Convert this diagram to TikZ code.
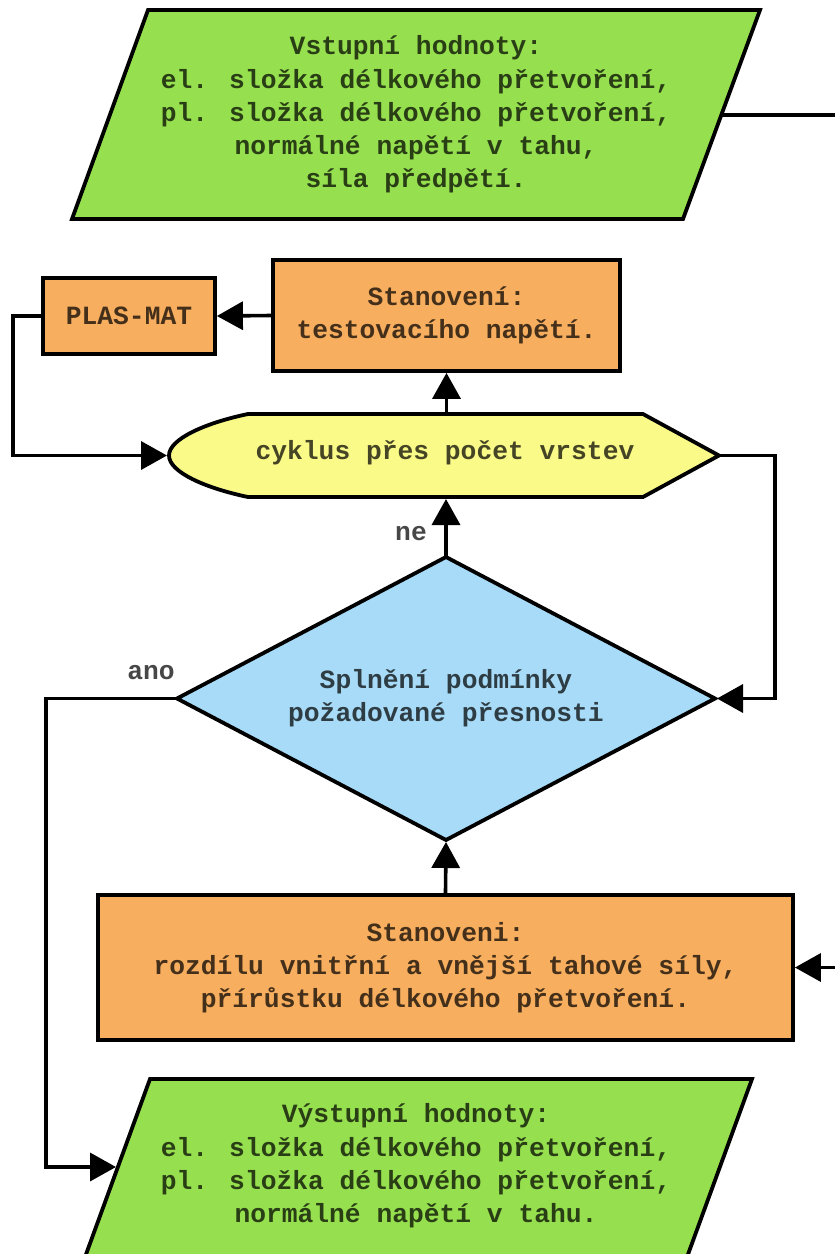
\documentclass[tikz,border=0pt]{standalone}
\usepackage{fontspec}
\setmainfont{Liberation Mono}
\usetikzlibrary{arrows.meta,shapes.geometric}

\definecolor{iogreen}{HTML}{96E04F}
\definecolor{procorange}{HTML}{F7AE5F}
\definecolor{loopyellow}{HTML}{FAFA88}
\definecolor{decblue}{HTML}{A8DBF7}

\begin{document}
\begin{tikzpicture}[x=1pt,y=-1pt,line width=3.8pt,
  every node/.style={font=\fontsize{26.3}{33.3}\selectfont\bfseries,
    align=center,text=black,text opacity=0.72},
  proc/.style={draw,fill=procorange,rectangle,inner sep=0pt},
  decision/.style={draw,fill=decblue},
  iobox/.style={draw,fill=iogreen},
  loopbox/.style={draw,fill=loopyellow},
  flow/.style={-{Triangle[length=26pt,width=28pt]},line width=3.6pt},
  plain/.style={line width=3.6pt}]

\clip (0,0) rectangle (835,1254);

% input data
\path[iobox] (148,10) -- (760,10) -- (683,219) -- (72,219) -- cycle;
\node (in) at (416,114.5) {Vstupní hodnoty:\\el. složka délkového přetvoření,\\pl. složka délkového přetvoření,\\normálné napětí v tahu,\\síla předpětí.};
\coordinate (inR) at (721,115);
\coordinate (inEnd) at (845,115);

% test stress and material model
\node[proc,minimum width=347pt,minimum height=111pt] (test) at (446.5,315.5) {Stanovení:\\testovacího napětí.};
\node[proc,minimum width=172pt,minimum height=76pt] (plas) at (129,316) {PLAS-MAT};

% loop over layers
\path[loopbox] (248,414) -- (643,414) -- (719,455.5) -- (643,497) -- (248,497)
  .. controls (205,488) and (169,472) .. (169,455.5)
  .. controls (169,439) and (205,423) .. cycle;
\node (loop) at (445,453) {cyklus přes počet vrstev};
\coordinate (hexL) at (167,455.5);
\coordinate (hexR) at (719,455.5);
\coordinate (hexT) at (446.5,412);
\coordinate (hexB) at (446,499);

% convergence check
\path[decision] (446,557) -- (715,698.5) -- (446,840) -- (177,698.5) -- cycle;
\node (cond) at (446,698) {Splnění podmínky\\požadované přesnosti};
\coordinate (condN) at (446,557);
\coordinate (condS) at (446,842);
\coordinate (condE) at (717,698.5);
\coordinate (condW) at (177,698.5);

% force difference
\node[proc,minimum width=695pt,minimum height=145pt] (diff) at (445.5,967.5) {Stanoveni:\\rozdílu vnitřní a vnější tahové síly,\\přírůstku délkového přetvoření.};
\coordinate (diffIn) at (845,967.5);

% output data
\path[iobox] (150,1079) -- (752,1079) -- (675,1290) -- (73,1290) -- cycle;
\node (out) at (416,1166) {Výstupní hodnoty:\\el. složka délkového přetvoření,\\pl. složka délkového přetvoření,\\normálné napětí v tahu.};
\coordinate (outL) at (116,1167);

% connectors
\draw[plain] (inR) -- (inEnd);
\draw[flow] (test.west) -- (plas.east);
\draw[flow] (plas.west) -- (13,316) |- (hexL);
\draw[flow] (hexT) -- (test.south);
\draw[flow] (hexR) -- (775,455.5) |- (condE);
\draw[flow] (condN) -- (hexB);
\draw[flow] (condW) -- (46,698.5) |- (outL);
\draw[flow] (diff.north) -- (condS);
\draw[flow] (diffIn) -- (diff.east);

% branch labels
\node (ne) at (411,534) {ne};
\node (ano) at (151,673) {ano};
\end{tikzpicture}
\end{document}
